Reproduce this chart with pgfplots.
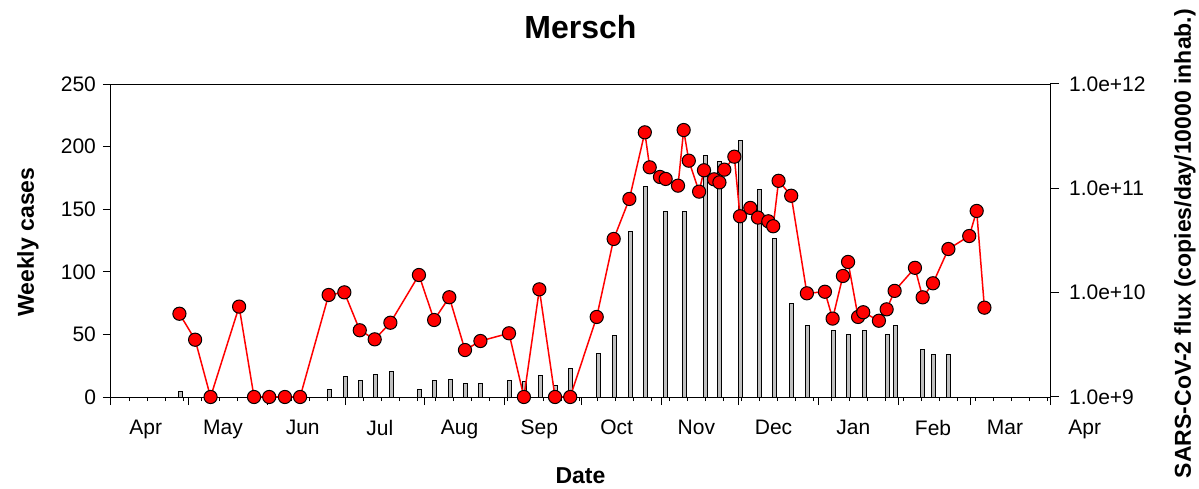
\documentclass[border=0pt]{standalone}
\usepackage{fontspec}
\setmainfont{Liberation Sans}
\usepackage{pgfplots}
\usepackage{pgfplotstable}
\pgfplotsset{compat=1.18}

\pgfplotstableread{
day cases
26.9 4
84.9 6
91.0 16
96.9 13
102.9 18
109.0 20
119.8 6
125.9 13
131.9 14
137.9 11
143.8 11
154.8 13
160.8 12
166.8 17
172.7 9
178.8 23
189.4 35
195.8 49
201.9 132
207.8 168
215.7 148
222.9 148
230.9 193
236.7 188
244.8 205
251.9 166
257.8 127
264.7 75
270.8 57
280.8 53
286.8 50
292.8 53
301.8 50
304.9 57
315.6 38
319.6 34
325.7 34
}\casedata

\pgfplotstableread{
day flux
26.6 6.28e9
32.7 3.54e9
38.7 1.0e9
49.8 7.35e9
55.6 1.0e9
61.5 1.0e9
67.6 1.0e9
73.5 1.0e9
84.6 9.5e9
90.7 1.007e10
96.7 4.36e9
102.5 3.57e9
108.6 5.15e9
119.7 1.476e10
125.6 5.47e9
131.5 9.04e9
137.6 2.82e9
143.6 3.44e9
154.7 4.08e9
160.5 1.0e9
166.5 1.076e10
172.6 1.0e9
178.5 1.0e9
188.8 5.85e9
195.4 3.27e10
201.5 7.91e10
207.5 3.44e11
209.4 1.59e11
213.4 1.285e11
215.6 1.23e11
220.4 1.06e11
222.6 3.62e11
224.6 1.84e11
228.6 9.29e10
230.5 1.49e11
234.4 1.22e11
236.5 1.14e11
238.4 1.51e11
242.3 2.01e11
244.5 5.40e10
248.5 6.49e10
251.5 5.24e10
255.5 4.83e10
257.4 4.33e10
259.5 1.18e11
264.4 8.49e10
270.5 9.86e9
277.5 1.02e10
280.5 5.64e9
284.5 1.445e10
286.5 1.97e10
290.4 5.85e9
292.4 6.49e9
298.5 5.38e9
301.5 6.92e9
304.6 1.04e10
312.5 1.73e10
315.5 9.02e9
319.5 1.23e10
325.5 2.62e10
333.6 3.49e10
336.5 6.07e10
339.5 7.18e9
}\fluxdata

\begin{document}
\begin{tikzpicture}
\begin{axis}[
  name=main,
  scale only axis, width=469.5pt, height=156.5pt,
  xmin=0, xmax=365, ymin=0, ymax=250,
  ytick={0,50,...,250},
  xtick={0,30,61,91,122,153,183,214,244,275,306,334,365},
  xticklabels={Apr,May,Jun,Jul,Aug,Sep,Oct,Nov,Dec,Jan,Feb,Mar,Apr},
  minor xtick={0,7,...,364},
  tick align=outside, xtick pos=bottom, ytick pos=left,
  major tick length=4pt, minor tick length=2pt,
  tick style={black, line width=0.5pt},
  axis line style={line width=0.5pt},
  /pgf/number format/assume math mode=true,
  xticklabel style={xshift=17.4pt, yshift=-4pt, font=\fontsize{10.5}{12}\selectfont},
  yticklabel style={font=\fontsize{10.5}{12}\selectfont},
  title={Mersch},
  title style={at={(axis description cs:0.5,1.144)}, anchor=center, font=\bfseries\fontsize{16}{19}\selectfont},
  xlabel={Date},
  xlabel style={at={(axis description cs:0.5,-0.252)}, anchor=center, font=\bfseries\fontsize{11.5}{14}\selectfont},
  ylabel={Weekly cases},
  ylabel style={at={(axis description cs:-0.0884,0.495)}, anchor=center, font=\bfseries\fontsize{11.5}{14}\selectfont},
]
\addplot[ybar, bar width=2pt, bar shift=0pt, fill=black!25, draw=black, line width=0.5pt]
  table[x=day, y=cases]{\casedata};
\end{axis}
\begin{axis}[
  scale only axis, width=469.5pt, height=156.5pt,
  xmin=0, xmax=365, ymode=log, ymin=1e9, ymax=1e12,
  axis x line=none, axis y line*=right,
  ytick={1e9,1e10,1e11,1e12},
  yticklabels={1.0e+9,1.0e+10,1.0e+11,1.0e+12},
  tick align=outside, major tick length=4.5pt, minor tick length=0pt,
  tick style={black, line width=0.5pt},
  axis line style={line width=0.5pt},
  yticklabel style={xshift=1.5pt, font=\fontsize{10.5}{12}\selectfont},
  ylabel={SARS-CoV-2 flux (copies/day/10000 inhab.)},
  ylabel style={at={(axis description cs:1.1438,0.49)}, anchor=center, rotate=0, font=\bfseries\fontsize{11.5}{14}\selectfont},
  clip=false,
]
\addplot[red, line width=0.75pt, mark=*, mark size=3.3pt, mark options={fill=red, draw=black, line width=0.5pt}]
  table[x=day, y=flux]{\fluxdata};
\end{axis}
\pgfresetboundingbox
\path (main.south west) ++(-55.5pt,-45.5pt) rectangle ++(599.5pt,244pt);
\end{tikzpicture}
\end{document}
